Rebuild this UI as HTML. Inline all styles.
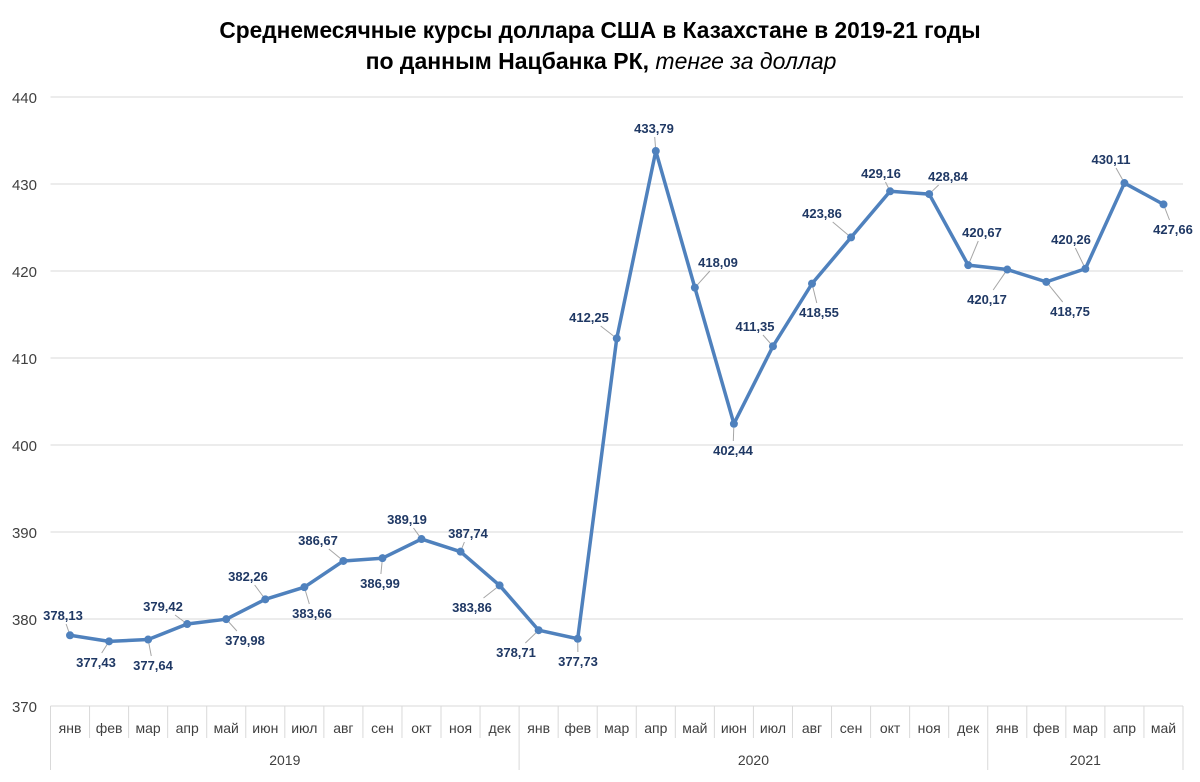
<!DOCTYPE html>
<html><head><meta charset="utf-8">
<style>
html,body{margin:0;padding:0;background:#fff;}
svg{display:block;font-family:"Liberation Sans","DejaVu Sans",sans-serif;}
</style></head>
<body>
<svg id="c" width="1200" height="782" xmlns="http://www.w3.org/2000/svg">
<text x="600" y="38" text-anchor="middle" font-size="22.7" font-weight="bold" fill="#000">Среднемесячные курсы доллара США в Казахстане в 2019-21 годы</text>
<text x="601" y="69" text-anchor="middle" font-size="23" fill="#000"><tspan font-weight="bold">по данным Нацбанка РК, </tspan><tspan font-style="italic">тенге за доллар</tspan></text>
</svg>
<script>
var s=document.getElementById('c'),NS='http://www.w3.org/2000/svg';
function el(t,a,txt){var e=document.createElementNS(NS,t);for(var k in a)e.setAttribute(k,a[k]);if(txt!=null)e.textContent=txt;s.appendChild(e);return e;}
var L=50.5,R=1183,W=(R-L)/29;
function Y(v){return 706-(v-370)*8.7;}
for(var g=370;g<=440;g+=10){
 el('line',{x1:L,x2:R,y1:Y(g),y2:Y(g),stroke:'#d9d9d9','stroke-width':1});
 el('text',{x:37,y:Y(g)+6,'text-anchor':'end','font-size':15,fill:'#404040'},String(g));
}
var m=['янв','фев','мар','апр','май','июн','июл','авг','сен','окт','ноя','дек'];
for(var i=0;i<=29;i++){
 var x=L+i*W, big=(i==0||i==12||i==24||i==29);
 el('line',{x1:x,x2:x,y1:706,y2:big?770:738,stroke:'#d9d9d9','stroke-width':1});
}
for(var i=0;i<29;i++){
 el('text',{x:L+(i+0.5)*W,y:733,'text-anchor':'middle','font-size':14,fill:'#404040'},m[i%12]);
}
el('text',{x:L+6*W,y:765,'text-anchor':'middle','font-size':14,fill:'#404040'},'2019');
el('text',{x:L+18*W,y:765,'text-anchor':'middle','font-size':14,fill:'#404040'},'2020');
el('text',{x:L+26.5*W,y:765,'text-anchor':'middle','font-size':14,fill:'#404040'},'2021');
var d=[[378.13,63,615],[377.43,96,662],[377.64,153,665],[379.42,163,606],[379.98,245,640],[382.26,248,576],[383.66,312,613],[386.67,318,540],[386.99,380,583],[389.19,407,519],[387.74,468,533],[383.86,472,607],[378.71,516,652],[377.73,578,661],[412.25,589,317],[433.79,654,128],[418.09,718,262],[402.44,733,450],[411.35,755,326],[418.55,819,312],[423.86,822,213],[429.16,881,173],[428.84,948,176],[420.67,982,232],[420.17,987,299],[418.75,1070,311],[420.26,1071,239],[430.11,1111,159],[427.66,1173,229]];
var pts=[];
d.forEach(function(p,i){
 var x=L+(i+0.5)*W,y=Y(p[0]);pts.push(x+','+y);
 var dx=p[1]-x,dy=p[2]-y;
 var t=Math.min(dx?23/Math.abs(dx):9,dy?9/Math.abs(dy):9);
 var ex=p[1]-dx*t,ey=p[2]-dy*t;
 var ldx=ex-x,ldy=ey-y,ld=Math.sqrt(ldx*ldx+ldy*ldy);
 if(ld>7 && t<1){
  el('line',{x1:x+ldx*4/ld,y1:y+ldy*4/ld,x2:ex,y2:ey,stroke:'#a6a6a6','stroke-width':1});
 }
});
el('polyline',{points:pts.join(' '),fill:'none',stroke:'#4f81bd','stroke-width':3.5,'stroke-linejoin':'round'});
d.forEach(function(p,i){
 var x=L+(i+0.5)*W,y=Y(p[0]);
 el('circle',{cx:x,cy:y,r:4,fill:'#4f81bd'});
 el('text',{x:p[1],y:p[2]+5,'text-anchor':'middle','font-size':13,'font-weight':'bold',fill:'#1f3864'},p[0].toFixed(2).replace('.',','));
});
</script>
</body></html>
